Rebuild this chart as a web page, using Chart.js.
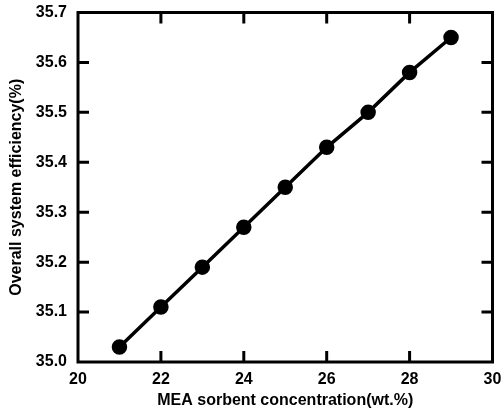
<!DOCTYPE html>
<html><head><meta charset="utf-8">
<script src="https://cdn.jsdelivr.net/npm/chart.js@4/dist/chart.umd.min.js"></script>
<style>html,body{margin:0;padding:0;background:#fff}#wrap{width:502px;height:414px}</style>
</head><body><div id="wrap"><canvas id="c" width="502" height="414"></canvas></div>
<script>
const concentrations = [21, 22, 23, 24, 25, 26, 27, 28, 29];
const efficiency = [35.03, 35.11, 35.19, 35.27, 35.35, 35.43, 35.50, 35.58, 35.65];
const xTicks = [20, 22, 24, 26, 28, 30];
const yTicks = [35.0, 35.1, 35.2, 35.3, 35.4, 35.5, 35.6, 35.7];

const FONT = "'Liberation Sans', Arial, sans-serif";

const framePlugin = {
  id: 'frame',
  afterDatasetsDraw(chart) {
    const {ctx, chartArea: a, scales: {x, y}} = chart;
    ctx.save();
    ctx.strokeStyle = '#000';
    ctx.lineWidth = 3;
    const L = 11;
    ctx.beginPath();
    xTicks.forEach((v, i) => {
      if (i === 0 || i === xTicks.length-1) return;
      const px = x.getPixelForValue(v);
      ctx.moveTo(px, a.bottom); ctx.lineTo(px, a.bottom - L);
      ctx.moveTo(px, a.top); ctx.lineTo(px, a.top + L);
    });
    yTicks.forEach((v, i) => {
      if (i === 0 || i === yTicks.length-1) return;
      const py = y.getPixelForValue(v);
      ctx.moveTo(a.left, py); ctx.lineTo(a.left + L, py);
      ctx.moveTo(a.right, py); ctx.lineTo(a.right - L, py);
    });
    ctx.stroke();
    ctx.lineJoin = 'miter';
    ctx.strokeRect(a.left, a.top, a.right - a.left, a.bottom - a.top);
    ctx.restore();
  }
};

new Chart(document.getElementById('c'), {
  type: 'scatter',
  data: {
    datasets: [{
      data: concentrations.map((c, i) => ({x: c, y: efficiency[i]})),
      showLine: true,
      borderColor: '#000',
      backgroundColor: '#000',
      borderWidth: 3.5,
      pointRadius: 6,
      pointHoverRadius: 6,
      clip: false
    }]
  },
  options: {
    responsive: false,
    animation: false,
    events: [],
    layout: {padding: {left: 0, right: 8, top: 12.5, bottom: 0}},
    plugins: {legend: {display: false}, tooltip: {enabled: false}},
    scales: {
      x: {
        type: 'linear', min: 20, max: 30,
        afterBuildTicks(s) { s.ticks = xTicks.map(v => ({value: v})); },
        afterFit(s) { s.height = 52; s.paddingLeft = 0; s.paddingRight = 0; },
        grid: {display: false, drawTicks: false},
        border: {display: false},
        ticks: {color: '#000', font: {family: FONT, size: 16, weight: 'bold'}, padding: 8, maxRotation: 0,
                callback: v => String(v)},
        title: {display: true, text: 'MEA sorbent concentration(wt.%)', color: '#000',
                font: {family: FONT, size: 16, weight: 'bold'}, padding: {top: 2, bottom: 4}}
      },
      y: {
        type: 'linear', min: 35.0, max: 35.7,
        afterBuildTicks(s) { s.ticks = yTicks.map(v => ({value: v})); },
        afterFit(s) { s.width = 78; s.paddingTop = 0; s.paddingBottom = 0; },
        grid: {display: false, drawTicks: false},
        border: {display: false},
        ticks: {color: '#000', font: {family: FONT, size: 16, weight: 'bold'}, padding: 11,
                callback: v => v.toFixed(1)},
        title: {display: true, text: 'Overall system efficiency(%)', color: '#000',
                font: {family: FONT, size: 16, weight: 'bold'}, padding: {top: 7, bottom: 4}}
      }
    }
  },
  plugins: [framePlugin]
});
</script></body></html>
